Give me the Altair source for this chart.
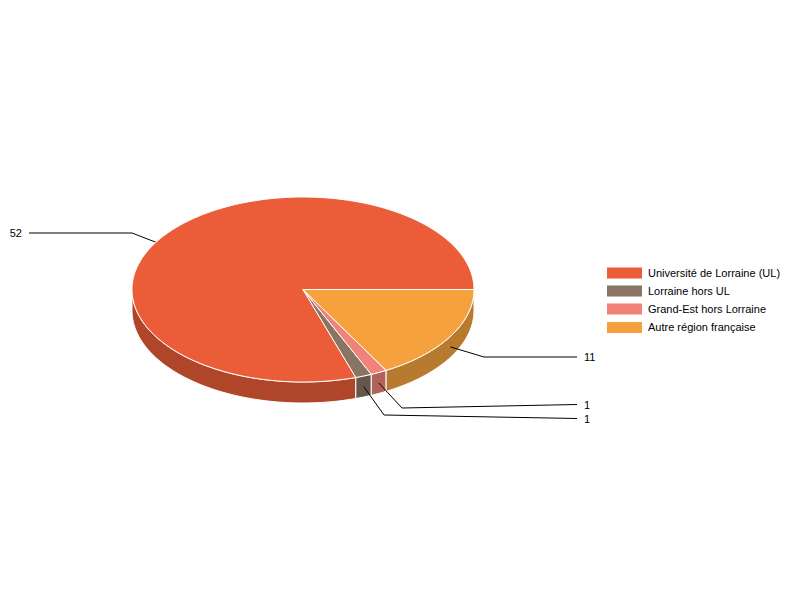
import math
import altair as alt
import pandas as pd

categories = ["Université de Lorraine (UL)", "Lorraine hors UL", "Grand-Est hors Lorraine", "Autre région française"]
values = [52, 1, 1, 11]
top_colors = ["#EA5D38", "#8A7565", "#EF8279", "#F4A13E"]
side_colors = ["#AF4629", "#67574B", "#B3615B", "#B77A2F"]
value_labels = ["52", "1", "1", "11"]
elbow_x = [132, 384, 402, 484]
elbow_y = [233, 415, 408, 357]
label_end_x = [29, 577, 577, 577]
label_end_y = [233, 418.5, 404.5, 357]
label_x = [22, 584, 584, 584]
label_align = ["right", "left", "left", "left"]
legend_y = [273, 291, 309, 327.4]

CX, CY, RX, RY, DEPTH = 303, 289.5, 171, 92.5, 21
TOTAL = sum(values)

XS = alt.Scale(domain=[8, 792], range=[0, 784], nice=False, zero=False)
YS = alt.Scale(domain=[8, 592], range=[0, 584], nice=False, zero=False)
X = alt.X("x:Q", axis=None, scale=XS)
Y = alt.Y("y:Q", axis=None, scale=YS)


def rim(a, dy=0.0):
    r = math.radians(a)
    return CX + RX * math.cos(r), CY - RY * math.sin(r) + dy


def samples(a0, a1):
    n = max(2, int(abs(a1 - a0) / 1.5) + 2)
    return [a0 + (a1 - a0) * i / (n - 1) for i in range(n)]


starts, ends, acc = [], [], 0.0
for v in values:
    starts.append(acc * 360 / TOTAL)
    acc += v
    ends.append(acc * 360 / TOTAL)


def polygon(points, color, width=1.0):
    df = pd.DataFrame(points, columns=["x", "y"])
    df["i"] = range(len(df))
    return (
        alt.Chart(df)
        .mark_line(fill=color, stroke="#ffffff", strokeWidth=width, strokeJoin="round", clip=False)
        .encode(x=X, y=Y, order="i:Q")
    )


walls, tops = [], []
for i in range(len(values)):
    lo, hi = max(starts[i], 180), ends[i]
    if hi > lo:
        arc = samples(lo, hi)
        pts = [rim(a) for a in arc] + [rim(a, DEPTH) for a in reversed(arc)]
        pts.append(pts[0])
        walls.append(polygon(pts, side_colors[i]))
    arc = samples(starts[i], ends[i])
    pts = [(CX, CY)] + [rim(a) for a in arc] + [(CX, CY)]
    tops.append(polygon(pts, top_colors[i]))


def leader(i):
    mid = (starts[i] + ends[i]) / 2
    ax, ay = rim(mid, DEPTH / 2)
    df = pd.DataFrame(
        {"x": [ax, elbow_x[i], label_end_x[i]], "y": [ay, elbow_y[i], label_end_y[i]], "i": [0, 1, 2]}
    )
    return alt.Chart(df).mark_line(stroke="#000000", strokeWidth=1).encode(x=X, y=Y, order="i:Q")


labels_df = pd.DataFrame({"x": label_x, "y": label_end_y, "t": value_labels, "a": label_align})
labels = [
    alt.Chart(labels_df[labels_df.a == al])
    .mark_text(font="Liberation Sans", fontSize=11, color="#000000", align=al, baseline="middle", dy=1)
    .encode(x=X, y=Y, text="t:N")
    for al in ["left", "right"]
]

legend_df = pd.DataFrame(
    {
        "x": [607] * 4,
        "x2": [642] * 4,
        "y": [v - 5.5 for v in legend_y],
        "y2": [v + 5.5 for v in legend_y],
        "c": top_colors,
        "tx": [648] * 4,
        "ty": legend_y,
        "t": categories,
    }
)
swatches = alt.Chart(legend_df).mark_rect().encode(x=X, x2="x2:Q", y=Y, y2="y2:Q", color=alt.Color("c:N", scale=None))
legend_text = (
    alt.Chart(legend_df)
    .mark_text(font="Liberation Sans", fontSize=11, color="#000000", align="left", baseline="middle", dy=1)
    .encode(x=alt.X("tx:Q", axis=None, scale=XS), y=alt.Y("ty:Q", axis=None, scale=YS), text="t:N")
)

chart = (
    alt.layer(leader(0), *walls, *tops, leader(1), leader(2), leader(3), *labels, swatches, legend_text)
    .properties(width=784, height=584, padding=0, autosize=alt.AutoSizeParams(type="none"))
    .configure_view(stroke=None)
)
chart.save("out.html", embed_options={"renderer": "svg", "actions": False})
